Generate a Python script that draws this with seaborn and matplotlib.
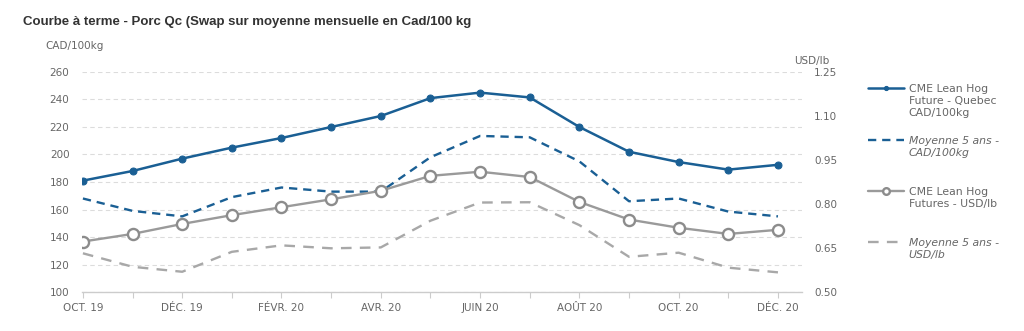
import matplotlib
matplotlib.use("Agg")
import matplotlib.pyplot as plt
import seaborn as sns
import pandas as pd
import numpy as np

months = ["OCT. 19", "NOV. 19", "DÉC. 19", "JANV. 20", "FÉVR. 20", "MARS 20", "AVR. 20",
          "MAI 20", "JUIN 20", "JUIL. 20", "AOÛT 20", "SEPT. 20", "OCT. 20", "NOV. 20", "DÉC. 20"]
cme_cad = [181, 188, 197, 205, 212, 220, 228, 241, 245, 241.5, 220, 202, 194.5, 189, 192.5]
avg5_cad = [168, 159, 155, 169, 176, 173, 173, 198, 213.5, 212.5, 195, 166, 168, 158.5, 155]
cme_usd = [0.672, 0.698, 0.732, 0.762, 0.789, 0.816, 0.845, 0.896, 0.910, 0.892, 0.807,
           0.747, 0.719, 0.698, 0.712]
avg5_usd = [0.632, 0.586, 0.569, 0.637, 0.659, 0.649, 0.652, 0.743, 0.805, 0.806, 0.728,
            0.620, 0.634, 0.583, 0.567]

labels = ["CME Lean Hog\nFuture - Quebec\nCAD/100kg",
          "Moyenne 5 ans -\nCAD/100kg",
          "CME Lean Hog\nFutures - USD/lb",
          "Moyenne 5 ans -\nUSD/lb"]

df = pd.DataFrame({"idx": np.arange(len(months)), "cme_cad": cme_cad, "avg5_cad": avg5_cad,
                   "cme_usd": cme_usd, "avg5_usd": avg5_usd})

sns.set_theme(style="white")
plt.rcParams['font.family'] = ['DejaVu Sans']

BLUE = "#1a5f94"
GRAY = "#9a9a9a"
TXT = "#666666"

fig = plt.figure(figsize=(10.24, 3.31), dpi=100)
ax = fig.add_axes([0.080, 0.1178, 0.703, 0.6647])
ax2 = ax.twinx()

sns.lineplot(data=df, x="idx", y="cme_cad", ax=ax, color=BLUE, linewidth=1.8,
             marker="o", markersize=5, markeredgecolor=BLUE, legend=False)
sns.lineplot(data=df, x="idx", y="avg5_cad", ax=ax, color=BLUE, linewidth=1.7,
             dashes=False, linestyle=(0, (3.5, 2.5)), legend=False)
sns.lineplot(data=df, x="idx", y="cme_usd", ax=ax2, color=GRAY, linewidth=1.7,
             marker="o", markersize=8, markerfacecolor="white", markeredgecolor="#8c8c8c",
             markeredgewidth=1.7, legend=False)
sns.lineplot(data=df, x="idx", y="avg5_usd", ax=ax2, color="#a8a8a8", linewidth=1.7,
             dashes=False, linestyle=(0, (4.5, 3.5)), legend=False)

ax.set_xlim(-0.02, 14.48)
ax.set_ylim(100, 260)
ax2.set_ylim(0.50, 1.25)
ax.set_yticks(np.arange(100, 261, 20))
ax2.set_yticks([0.50, 0.65, 0.80, 0.95, 1.10, 1.25])
ax2.set_yticklabels([f"{v:.2f}" for v in [0.50, 0.65, 0.80, 0.95, 1.10, 1.25]])

ax.set_xticks(df["idx"])
ax.set_xticklabels([m if i % 2 == 0 else "" for i, m in enumerate(months)])

ax.set_xlabel("")
ax.set_ylabel("")
ax2.set_ylabel("")

ax.yaxis.grid(True, linestyle=(0, (4, 3)), color="#dcdcdc", linewidth=0.8)
ax.set_axisbelow(True)
for a in (ax, ax2):
    for s in ("top", "right", "left", "bottom"):
        a.spines[s].set_visible(False)
ax.spines["bottom"].set_visible(True)
ax.spines["bottom"].set_color("#cccccc")
ax.spines["bottom"].set_linewidth(1.0)

ax.tick_params(axis="x", which="both", bottom=True, length=4, width=0.8, color="#cccccc",
               labelsize=7.5, labelcolor=TXT, pad=4)
ax.tick_params(axis="y", length=0, labelsize=7.5, labelcolor=TXT, pad=9)
ax2.tick_params(axis="y", length=0, labelsize=7.5, labelcolor=TXT, pad=9)

fig.text(0.044, 0.86, "CAD/100kg", fontsize=7.5, color=TXT, ha="left", va="center")
fig.text(0.776, 0.815, "USD/lb", fontsize=7.5, color=TXT, ha="left", va="center")

fig.text(0.0225, 0.935, "Courbe à terme - Porc Qc (Swap sur moyenne mensuelle en Cad/100 kg",
         fontsize=9.5, fontweight="bold", color="#333333", family=["Liberation Sans", "DejaVu Sans"],
         ha="left", va="center")

# pad every label to three lines so entries are evenly spaced
padded = [lab + "\n " * (3 - lab.count("\n") - 1) for lab in labels]

handles = ax.get_lines()[:2] + ax2.get_lines()[:2]
leg = fig.legend(handles, padded, loc="upper left", bbox_to_anchor=(0.843, 0.758),
                 frameon=False, fontsize=7.8, labelcolor=TXT, handlelength=3.4,
                 handletextpad=0.4, labelspacing=1.6, markerscale=0.6, borderaxespad=0)
for i, t in enumerate(leg.get_texts()):
    if i in (1, 3):
        t.set_fontstyle("italic")
    t.set_linespacing(1.25)
for col in leg._legend_handle_box.get_children():
    for item in col.get_children():
        item.align = "top"

fig.savefig("out.png", dpi=100, facecolor="white")
